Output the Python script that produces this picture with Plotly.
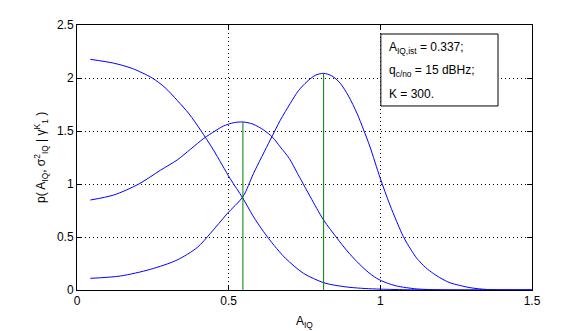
import plotly.graph_objects as go

# Curve data
x_A = [0.044, 0.121, 0.182, 0.248, 0.29, 0.33, 0.37, 0.407, 0.45, 0.505, 0.546, 0.58, 0.615, 0.65, 0.687, 0.747, 0.813, 0.86, 0.9, 0.95, 1.0, 1.1, 1.2, 1.3, 1.4, 1.5]
y_A = [2.176, 2.14, 2.09, 2.0, 1.91, 1.79, 1.66, 1.51, 1.32, 1.05, 0.87, 0.70, 0.55, 0.42, 0.30, 0.157, 0.069, 0.04, 0.025, 0.014, 0.008, 0.002, 0, 0, 0, 0]

x_B = [0.044, 0.121, 0.204, 0.275, 0.33, 0.375, 0.418, 0.455, 0.483, 0.516, 0.547, 0.58, 0.615, 0.645, 0.67, 0.70, 0.725, 0.769, 0.813, 0.857, 0.89, 0.923, 0.955, 0.988, 1.02, 1.054, 1.12, 1.2, 1.3, 1.4, 1.5]
y_B = [0.849, 0.896, 1.0, 1.13, 1.226, 1.33, 1.43, 1.50, 1.547, 1.578, 1.585, 1.565, 1.51, 1.44, 1.35, 1.24, 1.11, 0.88, 0.66, 0.49, 0.37, 0.267, 0.18, 0.11, 0.068, 0.038, 0.01, 0.002, 0, 0, 0]

x_C = [0.044, 0.143, 0.242, 0.33, 0.396, 0.44, 0.495, 0.547, 0.582, 0.637, 0.67, 0.703, 0.73, 0.758, 0.785, 0.813, 0.84, 0.868, 0.895, 0.923, 0.945, 0.966, 0.999, 1.032, 1.076, 1.1, 1.12, 1.15, 1.175, 1.2, 1.23, 1.296, 1.35, 1.4, 1.5]
y_C = [0.11, 0.132, 0.195, 0.283, 0.40, 0.535, 0.72, 0.88, 1.10, 1.415, 1.60, 1.76, 1.88, 1.965, 2.025, 2.044, 2.02, 1.95, 1.83, 1.667, 1.51, 1.35, 1.06, 0.80, 0.503, 0.385, 0.30, 0.21, 0.155, 0.11, 0.068, 0.022, 0.005, 0.001, 0]

vline_x = [0.547, 0.813]
vline_top = [1.585, 2.044]

x_ticks = [0, 0.5, 1, 1.5]
x_ticklabels = ["0", "0.5", "1", "1.5"]
y_ticks = [0, 0.5, 1, 1.5, 2, 2.5]
y_ticklabels = ["0", "0.5", "1", "1.5", "2", "2.5"]

info_lines = ["A<sub>IQ,ist</sub> = 0.337;", "q<sub>c/no</sub> = 15 dBHz;", "K = 300."]
info_y = [2.283, 2.066, 1.849]

FONT = "Liberation Sans, Arial, sans-serif"

fig = go.Figure()
for xs, ys in [(x_A, y_A), (x_B, y_B), (x_C, y_C)]:
    fig.add_trace(go.Scatter(x=xs, y=ys, mode="lines", line=dict(color="#0000ff", width=1, shape="spline", smoothing=0.8),
                             hoverinfo="skip", showlegend=False))
for vx, vt in zip(vline_x, vline_top):
    fig.add_trace(go.Scatter(x=[vx, vx], y=[0, vt], mode="lines", line=dict(color="#008000", width=1),
                             hoverinfo="skip", showlegend=False))

axis_common = dict(showline=True, linecolor="black", linewidth=1, mirror="ticks", ticks="inside", ticklen=5,
                   tickcolor="black", showgrid=True, gridcolor="black", griddash="1px,3px", gridwidth=1,
                   zeroline=False, tickfont=dict(family=FONT, size=12, color="black"))

fig.update_layout(
    width=587, height=331,
    margin=dict(l=76.5, r=55, t=25, b=41, pad=0),
    paper_bgcolor="white", plot_bgcolor="white",
    xaxis=dict(range=[0, 1.5], tickvals=x_ticks, ticktext=x_ticklabels, **axis_common),
    yaxis=dict(range=[0, 2.5], tickvals=y_ticks, ticktext=y_ticklabels, **axis_common),
    font=dict(family=FONT, size=12, color="black"),
)

# info box
fig.add_shape(type="rect", xref="x", yref="y", x0=1.0017, x1=1.388, y0=1.736, y1=2.415,
              line=dict(color="black", width=1), fillcolor="white", layer="above")
for t, yy in zip(info_lines, info_y):
    fig.add_annotation(x=1.021, y=yy, xref="x", yref="y", text=t, showarrow=False,
                       xanchor="left", yanchor="middle", font=dict(family=FONT, size=12, color="black"))

# axis titles
fig.add_annotation(x=0.5, y=-(322 - 290) / 265, xref="paper", yref="paper", text="A<sub>IQ</sub>",
                   showarrow=False, xanchor="center", yanchor="middle", font=dict(family=FONT, size=12, color="black"))
fig.add_annotation(x=-(76.5 - 40) / 455.5, y=0.5, xref="paper", yref="paper",
                   text="p( A<sub>IQ</sub>, σ<sup>2</sup><sub>IQ</sub> | γ<sup>K</sup><sub>1</sub> )",
                   textangle=-90, showarrow=False, xanchor="center", yanchor="middle",
                   font=dict(family=FONT, size=12, color="black"))

fig.write_html("out.html")
